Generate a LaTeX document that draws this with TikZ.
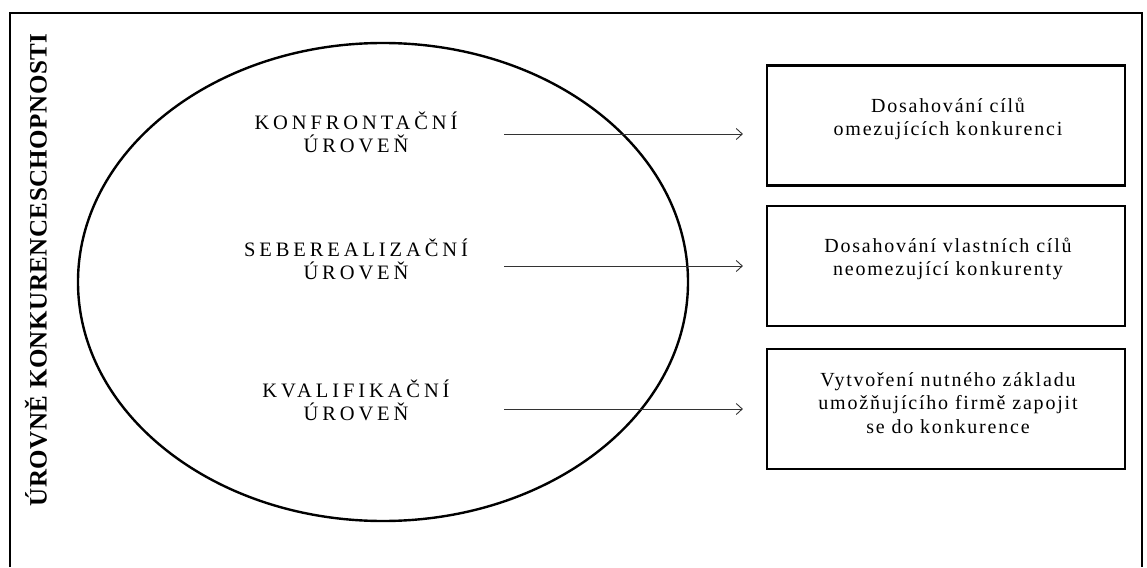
\documentclass[tikz,border=0pt]{standalone}
\usepackage{fontspec}
\setmainfont{Liberation Serif}
\newfontfamily\levelfont[LetterSpace=19]{Liberation Serif}
\newfontfamily\goalfont[LetterSpace=9]{Liberation Serif}
\newfontfamily\titlefont[LetterSpace=2]{Liberation Serif}
\usetikzlibrary{arrows.meta}

\begin{document}
\begin{tikzpicture}[x=1pt, y=-1pt,
	level/.style={align=center, inner sep=0pt, font=\levelfont\fontsize{20.5}{23}\selectfont},
	goal/.style={draw, line width=2.2pt, minimum width=358, minimum height=120, inner sep=0pt},
	goaltext/.style={align=center, inner sep=0pt, font=\goalfont\fontsize{20}{23.5}\selectfont},
	link/.style={black!80, line width=0.9pt, -{Straight Barb[length=6pt, width=11pt]}}]
	\useasboundingbox (0,0) rectangle (1147,567);
	\draw [line width=1.8pt] (10,567) -- (10,13) -- (1142,13) -- (1142,567);
	\draw [line width=2.4pt] (383,282) ellipse [x radius=305, y radius=239];
	\node [rotate=90, inner sep=0pt, font=\titlefont\bfseries\fontsize{25}{25}\selectfont] at (36,270) (title) {ÚROVNĚ KONKURENCESCHOPNOSTI};
	
	\foreach \n/\ypos/\name in {
		1/132/KONFRONTAČNÍ,
		2/259/SEBEREALIZAČNÍ,
		3/400/KVALIFIKAČNÍ
	}
	{
		\node [level] at (356,\ypos) (lvl\n) {\name\\ÚROVEŇ};
	}
	
	\foreach \n/\ypos/\tpos/\arrow in {
		1/125.5/119/134,
		2/266/259/266,
		3/409/403/409
	}
	{
		\node [goal] at (946,\ypos) (goal\n) {};
		\coordinate (text\n) at (948,\tpos);
		\coordinate (start\n) at (504,\arrow);
		\draw [link, shorten >=23pt] (start\n) -- (start\n -| goal\n.west);
	}
	
	\node [goaltext] at (text1) (goaltext1) {Dosahování cílů\\omezujících konkurenci};
	\node [goaltext] at (text2) (goaltext2) {Dosahování vlastních cílů\\neomezující konkurenty};
	\node [goaltext] at (text3) (goaltext3) {Vytvoření nutného základu\\umožňujícího firmě zapojit\\se do konkurence};
\end{tikzpicture}
\end{document}
